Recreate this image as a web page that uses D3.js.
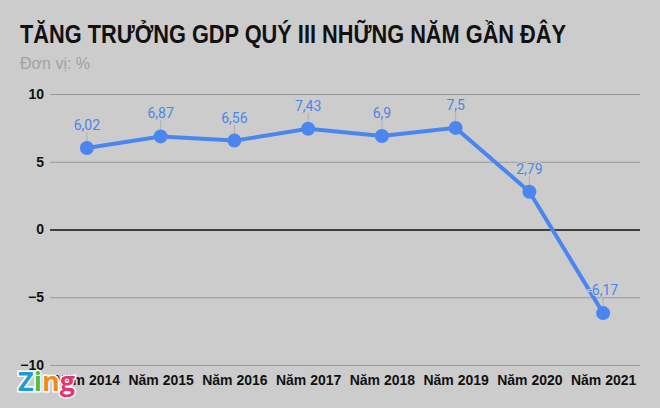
<!DOCTYPE html>
<html>
<head>
<meta charset="utf-8">
<script src="https://cdn.jsdelivr.net/npm/d3@7"></script>
<style>
  body { margin: 0; background: #cccccc; }
  svg { display: block; }
</style>
</head>
<body>
<div id="chart"></div>
<script>
// data
const years = ["Năm 2014", "Năm 2015", "Năm 2016", "Năm 2017", "Năm 2018", "Năm 2019", "Năm 2020", "Năm 2021"];
const growth = [6.02, 6.87, 6.56, 7.43, 6.9, 7.5, 2.79, -6.17];
const yTicks = [-10, -5, 0, 5, 10];

const w = 660, h = 408;
const margin = {top: 94, right: 20, bottom: 43, left: 50};
const narrow = "'Liberation Sans Narrow', 'Arial Narrow', 'Liberation Sans', sans-serif";

const svg = d3.select("#chart").append("svg")
    .attr("width", w)
    .attr("height", h)
    .style("font-family", "Roboto, 'Liberation Sans', sans-serif");

svg.append("rect").attr("width", w).attr("height", h).attr("fill", "#cccccc");

// title
svg.append("text")
    .attr("x", 20).attr("y", 43)
    .attr("font-size", 25)
    .attr("font-weight", "bold")
    .attr("font-family", narrow)
    .attr("fill", "#111")
    .attr("textLength", 546)
    .attr("lengthAdjust", "spacingAndGlyphs")
    .text("TĂNG TRƯỞNG GDP QUÝ III NHỮNG NĂM GẦN ĐÂY");

svg.append("text")
    .attr("x", 20).attr("y", 69)
    .attr("font-size", 16)
    .attr("font-family", "'Liberation Sans', sans-serif")
    .attr("fill", "#a2a2a2")
    .text("Đơn vị: %");

const x = d3.scalePoint()
    .domain(years)
    .range([margin.left, w - margin.right])
    .padding(0.5);

const y = d3.scaleLinear()
    .domain([-10, 10])
    .range([h - margin.bottom, margin.top]);

// gridlines
const yAxis = svg.append("g")
    .attr("transform", `translate(${margin.left},0)`)
    .call(d3.axisLeft(y).tickValues(yTicks).tickSize(-(w - margin.left - margin.right)).tickPadding(6).tickFormat(d3.format("d")));
yAxis.select(".domain").remove();
yAxis.selectAll(".tick line")
    .attr("stroke", d => d === 0 ? "#111" : "#9a9a9a")
    .attr("stroke-width", d => d === 0 ? 1.5 : 1.2);
yAxis.selectAll(".tick text")
    .attr("font-size", 14)
    .attr("font-weight", "bold")
    .attr("fill", "#111")
    .attr("font-family", narrow);

// x labels
const xAxis = svg.append("g")
    .attr("transform", `translate(0,${h - margin.bottom})`)
    .call(d3.axisBottom(x).tickSize(0).tickPadding(10));
xAxis.select(".domain").remove();
xAxis.selectAll(".tick text")
    .attr("font-size", 14)
    .attr("font-weight", "bold")
    .attr("fill", "#111")
    .attr("font-family", narrow);

const pts = years.map((d, i) => ({year: d, v: growth[i]}));
const blue = "#4a86f0";

// leader lines for labels
svg.append("g").selectAll("line")
    .data(pts)
    .join("line")
    .attr("x1", d => x(d.year)).attr("x2", d => x(d.year))
    .attr("y1", d => y(d.v) - 16).attr("y2", d => y(d.v))
    .attr("stroke", "#b0b0b0")
    .attr("stroke-width", 1);

svg.append("path")
    .datum(pts)
    .attr("fill", "none")
    .attr("stroke", blue)
    .attr("stroke-width", 4)
    .attr("d", d3.line().x(d => x(d.year)).y(d => y(d.v)));

svg.append("g").selectAll("circle")
    .data(pts)
    .join("circle")
    .attr("cx", d => x(d.year))
    .attr("cy", d => y(d.v))
    .attr("r", 7)
    .attr("fill", blue);

// value labels on top of the line, with a light halo so the minus shows
svg.append("g").selectAll("text")
    .data(pts)
    .join("text")
    .attr("x", d => x(d.year))
    .attr("y", d => y(d.v) - 18)
    .attr("text-anchor", "middle")
    .attr("font-size", 14)
    .attr("fill", "#4a86e8")
    .attr("stroke", "#cccccc")
    .attr("stroke-width", 2)
    .attr("paint-order", "stroke")
    .text(d => String(d.v).replace(".", ","));

// Zing logo
const logo = svg.append("text")
    .attr("x", 18).attr("y", 391)
    .attr("font-size", 27)
    .attr("font-weight", "bold")
    .attr("font-family", "'Open Sans', sans-serif")
    .attr("stroke", "#fff")
    .attr("stroke-width", 3)
    .attr("paint-order", "stroke");
[["Z", "#1b9ad6"], ["i", "#52b848"], ["n", "#f08a1c"], ["g", "#e8336e"]].forEach(([c, col]) => {
    logo.append("tspan").attr("fill", col).text(c);
});
</script>
</body>
</html>
